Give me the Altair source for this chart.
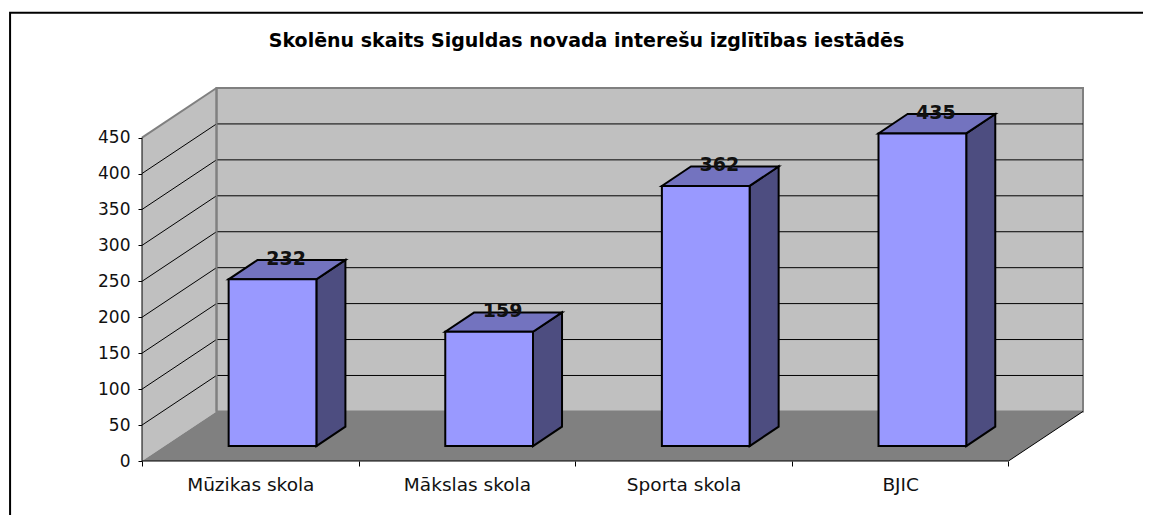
import altair as alt
import pandas as pd

categories = ["Mūzikas skola", "Mākslas skola", "Sporta skola", "BJIC"]
values = [232, 159, 362, 435]
y_ticks = [0, 50, 100, 150, 200, 250, 300, 350, 400, 450]
title_text = "Skolēnu skaits Siguldas novada interešu izglītības iestādēs"

# chart geometry, in axis units
N = len(categories)
YMAX = 450
DX, DY = 0.344, 69          # depth of the floor
BAR_X0, BAR_W = 0.40, 0.405
BAR_BASE = 20.8
BAR_DX, BAR_DY = 0.134, 27
# chart-area frame (open on the right and at the bottom), in axis units
FRAME_L, FRAME_R, FRAME_T, FRAME_B = -0.609, 4.66, 623.6, -76

W, H = 941, 373
FONT = "DejaVu Sans"
xs = alt.Scale(domain=[0, N + DX], nice=False, zero=False)
ys = alt.Scale(domain=[0, YMAX + DY], nice=False, zero=False)
X = lambda f="x": alt.X(f"{f}:Q", scale=xs, title=None)
Y = lambda f="y": alt.Y(f"{f}:Q", scale=ys, title=None)

WALL, FLOOR, EDGE = "#C0C0C0", "#808080", "#808080"
FRONT, TOP, SIDE = "#9999FF", "#7373BF", "#4D4D80"

# --- axes carrier -----------------------------------------------------------
label_expr = "{" + ",".join(f"'{i}.5':'{c}'" for i, c in enumerate(categories)) + "}[''+datum.value] || ''"
axes = alt.Chart(pd.DataFrame({"x": [0], "y": [0]})).mark_point(opacity=0).encode(
    x=alt.X("x:Q", scale=xs, title=None, axis=alt.Axis(
        values=[i / 2 for i in range(2 * N + 1)], domain=False, grid=False,
        tickSize=5, tickColor="black", tickWidth=1,
        tickOpacity=alt.expr("datum.value % 1 == 0 ? 1 : 0"),
        labelExpr=label_expr, labelFont=FONT, labelFontSize=18.5,
        labelColor="#111111", labelPadding=9, labelAngle=0, labelFlush=False, labelOverlap=False)),
    y=alt.Y("y:Q", scale=ys, title=None, axis=alt.Axis(
        values=y_ticks, domain=False, grid=False, tickSize=4, tickColor="black",
        tickWidth=1, labelFont=FONT, labelFontSize=17, labelColor="#111111",
        labelPadding=8, labelOverlap=False, labelFlush=False)),
)

# --- walls and floor ---------------------------------------------------------
side_wall = alt.Chart(pd.DataFrame({"x": [0, DX], "y": [0, DY], "y2": [YMAX, YMAX + DY]})).mark_area(
    color=WALL, orient="vertical").encode(x=X(), y=Y(), y2="y2:Q")
back_wall = alt.Chart(pd.DataFrame({"x": [DX], "x2": [N + DX], "y": [DY], "y2": [YMAX + DY]})).mark_rect(
    color=WALL, stroke=EDGE, strokeWidth=2).encode(x=X(), x2="x2:Q", y=Y(), y2="y2:Q")
floor = alt.Chart(pd.DataFrame({"y": [0, DY], "x": [0, DX], "x2": [N, N + DX]})).mark_area(
    color=FLOOR, orient="horizontal").encode(y=Y(), x=X(), x2="x2:Q")

grid_rows = []
for v in y_ticks[1:]:
    grid_rows += [{"v": v, "x": 0, "y": v, "o": 0}, {"v": v, "x": DX, "y": v + DY, "o": 1}]
    if v != YMAX:
        grid_rows.append({"v": v, "x": N + DX, "y": v + DY, "o": 2})
grid_df = pd.DataFrame(grid_rows)
grid = alt.Chart(grid_df[grid_df.v != YMAX]).mark_line(color="black", strokeWidth=1).encode(
    x=X(), y=Y(), detail="v:N", order="o:Q")
wall_top = alt.Chart(grid_df[grid_df.v == YMAX]).mark_line(color=EDGE, strokeWidth=2).encode(
    x=X(), y=Y(), order="o:Q")
corner = alt.Chart(pd.DataFrame({"x": [DX], "y": [DY], "y2": [YMAX + DY]})).mark_rule(
    color=EDGE, strokeWidth=2).encode(x=X(), y=Y(), y2="y2:Q")

# black edges: y axis line, floor front, floor right
edges_df = pd.DataFrame({
    "e": ["a", "a", "f", "f", "r", "r"],
    "x": [0, 0, 0, N, N, N + DX],
    "y": [0, YMAX, 0, 0, 0, DY],
    "o": [0, 1, 0, 1, 0, 1],
})
edges = alt.Chart(edges_df).mark_line(color="black", strokeWidth=1).encode(
    x=X(), y=Y(), detail="e:N", order="o:Q")

frame_df = pd.DataFrame({
    "x": [FRAME_L, FRAME_L, FRAME_R],
    "y": [FRAME_B, FRAME_T, FRAME_T],
    "o": [0, 1, 2],
})
frame = alt.Chart(frame_df).mark_line(color="black", strokeWidth=2).encode(
    x=X(), y=Y(), order="o:Q")

# --- bars --------------------------------------------------------------------
fronts, tops, sides = [], [], []
for i, v in enumerate(values):
    x0, x1 = i + BAR_X0, i + BAR_X0 + BAR_W
    fronts.append({"x": x0, "x2": x1, "y": BAR_BASE, "y2": BAR_BASE + v})
    top = BAR_BASE + v
    tops += [{"b": i, "y": top, "x": x0, "x2": x1},
             {"b": i, "y": top + BAR_DY, "x": x0 + BAR_DX, "x2": x1 + BAR_DX}]
    sides += [{"b": i, "x": x1, "y": BAR_BASE, "y2": top},
              {"b": i, "x": x1 + BAR_DX, "y": BAR_BASE + BAR_DY, "y2": top + BAR_DY}]

bar_side = alt.Chart(pd.DataFrame(sides)).mark_area(
    color=SIDE, stroke="black", strokeWidth=2, orient="vertical").encode(
    x=X(), y=Y(), y2="y2:Q", detail="b:N")
bar_top = alt.Chart(pd.DataFrame(tops)).mark_area(
    color=TOP, stroke="black", strokeWidth=2, orient="horizontal").encode(
    y=Y(), x=X(), x2="x2:Q", detail="b:N")
bar_front = alt.Chart(pd.DataFrame(fronts)).mark_rect(
    color=FRONT, stroke="black", strokeWidth=2).encode(
    x=X(), x2="x2:Q", y=Y(), y2="y2:Q")

labels_df = pd.DataFrame({
    "x": [i + BAR_X0 + BAR_W / 2 + BAR_DX / 2 for i in range(N)],
    "y": [BAR_BASE + v + BAR_DY / 2 for v in values],
    "t": [str(v) for v in values],
})
labels = alt.Chart(labels_df).mark_text(
    font=FONT, fontWeight="bold", fontSize=19, color="#111111",
    align="center", baseline="alphabetic", dy=-5, dx=-1).encode(x=X(), y=Y(), text="t:N")

# --- title -------------------------------------------------------------------
title = alt.Chart(pd.DataFrame({"x": [N / 2 + DX / 2], "y": [YMAX + DY], "t": [title_text]})).mark_text(
    font=FONT, fontWeight="bold", fontSize=19, color="black",
    align="center", baseline="middle", dy=-47, dx=-26).encode(x=X(), y=Y(), text="t:N")

chart = alt.layer(
    frame, side_wall, back_wall, floor, grid, wall_top, corner, edges,
    bar_side, bar_top, bar_front, labels, title, axes,
).properties(
    width=W, height=H,
    padding={"left": 134, "top": 80, "right": 60, "bottom": 54},
    autosize=alt.AutoSizeParams(type="none"),
).configure_view(stroke=None)

chart.save("out.html", embed_options={"renderer": "svg", "actions": False})
